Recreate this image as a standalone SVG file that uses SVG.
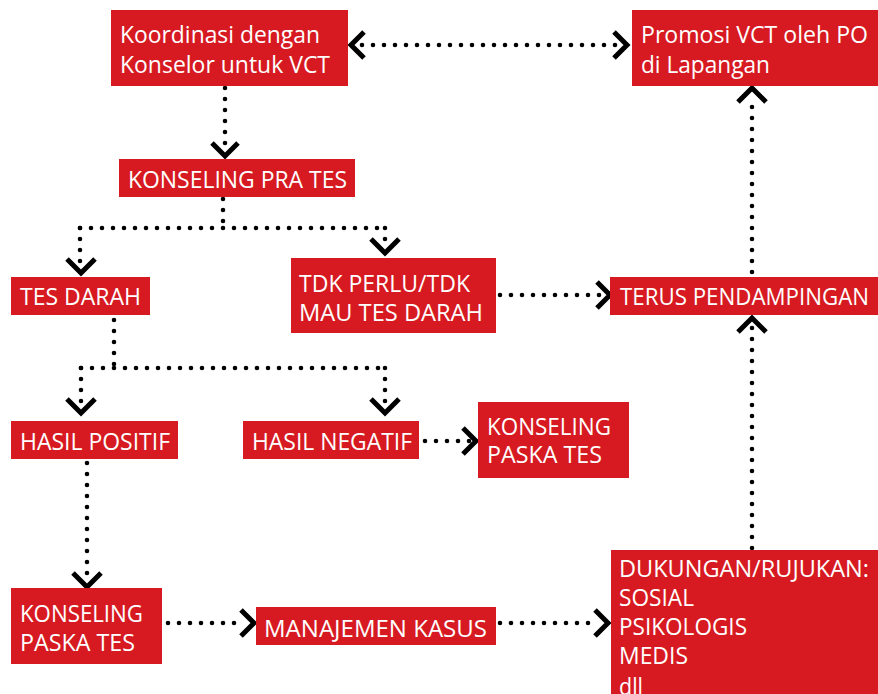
<svg xmlns="http://www.w3.org/2000/svg" width="878" height="694" viewBox="0 0 878 694">
  <style>
    .box { fill: #d71a21; }
    .lbl { fill: #ffffff; font-family: "Open Sans", "Noto Sans", "Liberation Sans", sans-serif; font-size: 23px; }
    .dots { fill: none; stroke: #000; stroke-width: 4.6; stroke-linecap: round; stroke-dasharray: 0 11; }
    .head { fill: none; stroke: #000; stroke-width: 5; stroke-linejoin: miter; stroke-linecap: butt; }
  </style>
  <rect width="878" height="694" fill="#ffffff"/>

  <!-- connectors -->
  <g id="connectors">
    <!-- Koordinasi <-> Promosi -->
    <line class="dots" x1="362" y1="45" x2="617" y2="45"/>
    <polyline class="head" points="364,32 351,45 364,58"/>
    <polyline class="head" points="614,32 627,45 614,58"/>
    <!-- Koordinasi -> Konseling pra tes -->
    <line class="dots" x1="225" y1="88" x2="225" y2="150"/>
    <polyline class="head" points="212,143 225,156 238,143"/>
    <!-- Konseling pra tes split -->
    <line class="dots" x1="223" y1="199" x2="223" y2="228"/>
    <line class="dots" x1="80" y1="228" x2="385" y2="228"/>
    <line class="dots" x1="80" y1="228" x2="80" y2="266"/>
    <polyline class="head" points="67,259 81,273 95,259"/>
    <line class="dots" x1="385" y1="228" x2="385" y2="245"/>
    <polyline class="head" points="371,239 385,253 399,239"/>
    <!-- Tes darah split -->
    <line class="dots" x1="114" y1="320" x2="114" y2="368"/>
    <line class="dots" x1="81" y1="368" x2="385" y2="368"/>
    <line class="dots" x1="81" y1="368" x2="81" y2="406"/>
    <polyline class="head" points="67,399 81,413 95,399"/>
    <line class="dots" x1="385" y1="368" x2="385" y2="406"/>
    <polyline class="head" points="371,399 385,413 399,399"/>
    <!-- Hasil positif -> Konseling paska tes -->
    <line class="dots" x1="87" y1="463" x2="87" y2="580"/>
    <polyline class="head" points="73,573 87,587 101,573"/>
    <!-- Hasil negatif -> Konseling paska tes -->
    <line class="dots" x1="425" y1="441" x2="470" y2="441"/>
    <polyline class="head" points="463,428 476,441 463,454"/>
    <!-- Tdk perlu -> Terus pendampingan -->
    <line class="dots" x1="500" y1="295" x2="600" y2="295"/>
    <polyline class="head" points="597,282 610,295 597,308"/>
    <!-- Konseling paska tes -> Manajemen kasus -->
    <line class="dots" x1="168" y1="623" x2="245" y2="623"/>
    <polyline class="head" points="241,610 254,623 241,636"/>
    <!-- Manajemen kasus -> Dukungan -->
    <line class="dots" x1="500" y1="623" x2="599" y2="623"/>
    <polyline class="head" points="595,610 608,623 595,636"/>
    <!-- Dukungan -> Terus pendampingan -->
    <line class="dots" x1="752" y1="548" x2="752" y2="326"/>
    <polyline class="head" points="738,332 752,318 766,332"/>
    <!-- Terus pendampingan -> Promosi -->
    <line class="dots" x1="752" y1="272" x2="752" y2="96"/>
    <polyline class="head" points="738,102 752,88 766,102"/>
  </g>

  <g id="koordinasi">
    <rect class="box" x="111" y="10" width="237" height="76"/>
    <text class="lbl" x="120" y="43" textLength="200" lengthAdjust="spacingAndGlyphs">Koordinasi dengan</text>
    <text class="lbl" x="120" y="73" textLength="210" lengthAdjust="spacingAndGlyphs">Konselor untuk VCT</text>
  </g>

  <g id="promosi">
    <rect class="box" x="632" y="10" width="246" height="76"/>
    <text class="lbl" x="641" y="43" textLength="227" lengthAdjust="spacingAndGlyphs">Promosi VCT oleh PO</text>
    <text class="lbl" x="641" y="73" textLength="129" lengthAdjust="spacingAndGlyphs">di Lapangan</text>
  </g>

  <g id="konseling-pra-tes">
    <rect class="box" x="119" y="159" width="236" height="38"/>
    <text class="lbl" x="128" y="188" textLength="219" lengthAdjust="spacingAndGlyphs">KONSELING PRA TES</text>
  </g>

  <g id="tes-darah">
    <rect class="box" x="11" y="277" width="139" height="38"/>
    <text class="lbl" x="20" y="305" textLength="121" lengthAdjust="spacingAndGlyphs">TES DARAH</text>
  </g>

  <g id="tdk-perlu">
    <rect class="box" x="291" y="258" width="205" height="75"/>
    <text class="lbl" x="299" y="292" textLength="171" lengthAdjust="spacingAndGlyphs">TDK PERLU/TDK</text>
    <text class="lbl" x="299" y="321" textLength="184" lengthAdjust="spacingAndGlyphs">MAU TES DARAH</text>
  </g>

  <g id="terus-pendampingan">
    <rect class="box" x="610" y="277" width="268" height="38"/>
    <text class="lbl" x="620" y="305" textLength="249" lengthAdjust="spacingAndGlyphs">TERUS PENDAMPINGAN</text>
  </g>

  <g id="hasil-positif">
    <rect class="box" x="11" y="421" width="167" height="38"/>
    <text class="lbl" x="20" y="450" textLength="150" lengthAdjust="spacingAndGlyphs">HASIL POSITIF</text>
  </g>

  <g id="hasil-negatif">
    <rect class="box" x="243" y="421" width="176" height="38"/>
    <text class="lbl" x="252" y="450" textLength="160" lengthAdjust="spacingAndGlyphs">HASIL NEGATIF</text>
  </g>

  <g id="konseling-paska-tes-negatif">
    <rect class="box" x="478" y="402" width="151" height="76"/>
    <text class="lbl" x="487" y="435" textLength="124" lengthAdjust="spacingAndGlyphs">KONSELING</text>
    <text class="lbl" x="487" y="463" textLength="115" lengthAdjust="spacingAndGlyphs">PASKA TES</text>
  </g>

  <g id="konseling-paska-tes-positif">
    <rect class="box" x="11" y="588" width="151" height="76"/>
    <text class="lbl" x="20" y="622" textLength="123" lengthAdjust="spacingAndGlyphs">KONSELING</text>
    <text class="lbl" x="20" y="651" textLength="115" lengthAdjust="spacingAndGlyphs">PASKA TES</text>
  </g>

  <g id="manajemen-kasus">
    <rect class="box" x="256" y="607" width="240" height="38"/>
    <text class="lbl" x="264" y="637" textLength="223" lengthAdjust="spacingAndGlyphs">MANAJEMEN KASUS</text>
  </g>

  <g id="dukungan-rujukan">
    <rect class="box" x="611" y="550" width="267" height="144"/>
    <text class="lbl" x="619" y="577" textLength="250" lengthAdjust="spacingAndGlyphs">DUKUNGAN/RUJUKAN:</text>
    <text class="lbl" x="619" y="606" textLength="75" lengthAdjust="spacingAndGlyphs">SOSIAL</text>
    <text class="lbl" x="619" y="635" textLength="128" lengthAdjust="spacingAndGlyphs">PSIKOLOGIS</text>
    <text class="lbl" x="619" y="664" textLength="69" lengthAdjust="spacingAndGlyphs">MEDIS</text>
    <text class="lbl" x="619" y="695" textLength="24" lengthAdjust="spacingAndGlyphs">dll</text>
  </g>
</svg>
